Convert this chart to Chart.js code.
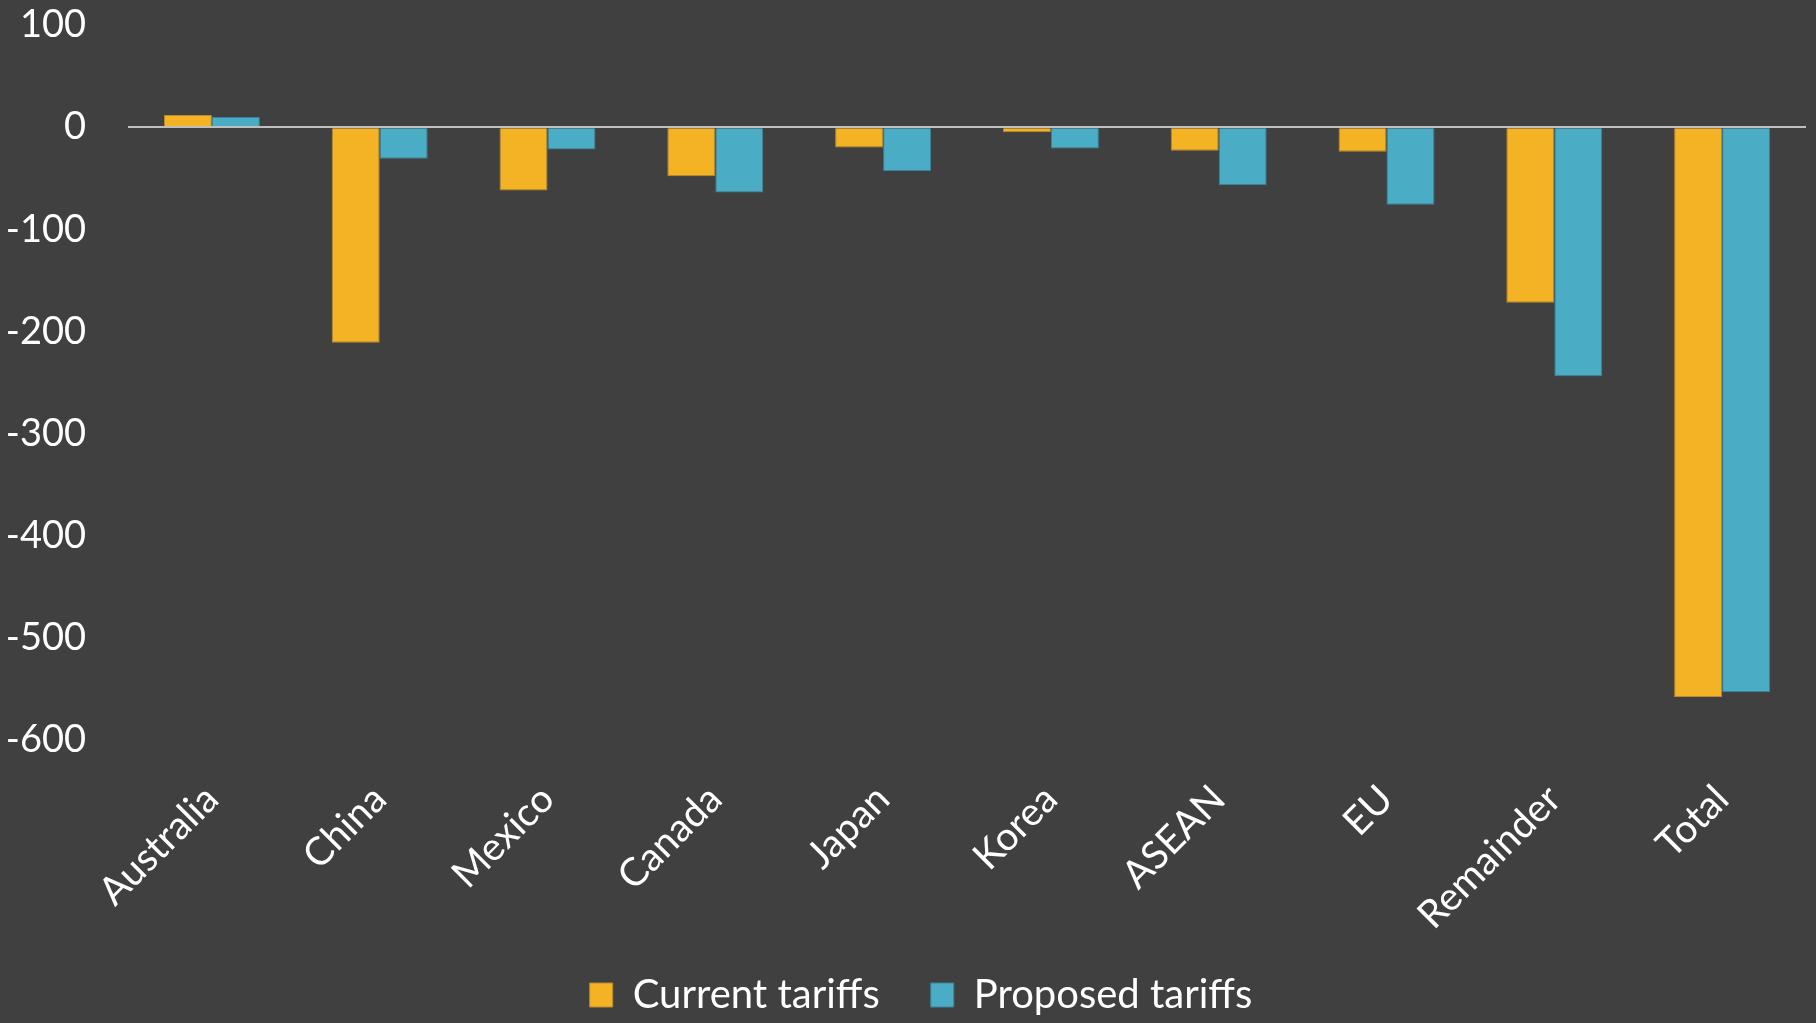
<!DOCTYPE html>
<html>
<head>
<meta charset="utf-8">
<script src="https://cdn.jsdelivr.net/npm/chart.js@4"></script>
<style>
  html, body { margin: 0; padding: 0; background: #404040; }
  #wrap { width: 1816px; height: 1023px; }
</style>
</head>
<body>
<div id="wrap"><canvas id="chart" width="1816" height="1023"></canvas></div>
<script>
// values
const categories = ["Australia", "China", "Mexico", "Canada", "Japan", "Korea", "ASEAN", "EU", "Remainder", "Total"];
const currentTariffs = [12, -211, -62, -48, -20, -5, -23, -24, -172, -558];
const proposedTariffs = [10, -31, -22, -64, -43, -21, -57, -76, -244, -553];
const yTicks = [100, 0, -100, -200, -300, -400, -500, -600];

const FONT = "Lato, 'Open Sans', sans-serif";

// legend: short strip in the layout, then nudged so it overlaps the label area a bit
const legendPlace = {
  id: "legendPlace",
  beforeLayout(chart) {
    const lg = chart.legend;
    if (lg && !lg._fitWrapped) {
      const fit = lg.fit.bind(lg);
      lg.fit = function () { fit(); this.height = 68; };
      lg._fitWrapped = true;
    }
  },
  afterLayout(chart) {
    const lg = chart.legend;
    if (!lg) return;
    lg.top -= 31;
    lg.height += 31;
    lg.left += 18;
    lg.right += 18;
  }
};

new Chart(document.getElementById("chart"), {
  type: "bar",
  data: {
    labels: categories,
    datasets: [
      { label: "Current tariffs", data: currentTariffs, backgroundColor: "#F4B225", borderColor: "#B98A2E", borderWidth: 1 },
      { label: "Proposed tariffs", data: proposedTariffs, backgroundColor: "#4BACC6", borderColor: "#3A8399", borderWidth: 1 }
    ]
  },
  options: {
    responsive: false,
    animation: false,
    layout: { padding: { top: 25, right: 10, left: 0, bottom: 0 } },
    datasets: { bar: { categoryPercentage: 0.572, barPercentage: 1 } },
    scales: {
      y: {
        min: -600, max: 100,
        afterBuildTicks: axis => { axis.ticks = yTicks.map(v => ({ value: v })); },
        afterFit: axis => { axis.width = 128; axis.paddingTop = 0; axis.paddingBottom = 0; },
        border: { display: false },
        grid: {
          drawTicks: false,
          color: ctx => ctx.tick && ctx.tick.value === 0 ? "#BFBFBF" : "rgba(0,0,0,0)",
          lineWidth: 2
        },
        ticks: { color: "#FFFFFF", font: { family: FONT, size: 38 }, padding: 42 }
      },
      x: {
        afterFit: axis => { axis.height = 215; axis.paddingLeft = 0; axis.paddingRight = 0; },
        border: { display: false },
        grid: { display: false },
        ticks: { color: "#FFFFFF", font: { family: FONT, size: 39 }, minRotation: 45, maxRotation: 45, padding: 28 }
      }
    },
    plugins: {
      legend: {
        position: "bottom",
        labels: { color: "#FFFFFF", font: { family: FONT, size: 40 }, boxWidth: 23, boxHeight: 24, padding: 51 }
      },
      tooltip: { enabled: false }
    }
  },
  plugins: [legendPlace]
});
</script>
</body>
</html>
